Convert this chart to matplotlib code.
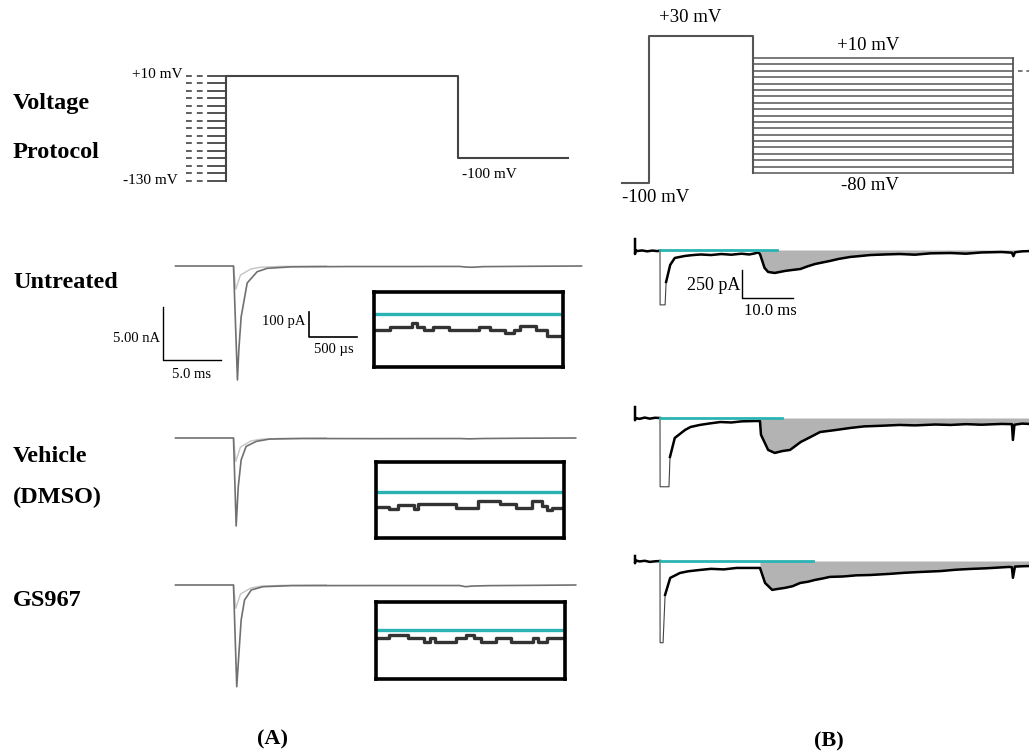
import numpy as np
import matplotlib
matplotlib.use("Agg")
import matplotlib.pyplot as plt

plt.rcParams['font.family'] = ['Liberation Serif', 'DejaVu Serif']

W, H = 1029, 751

# ---- panel A voltage protocol (mV, ms)
protoA_levels = [10, 0, -10, -20, -30, -40, -50, -60, -70, -80, -90, -100, -110, -120, -130]
protoA_test_mv = 10
protoA_tail_mv = -100
protoA_pre = [-3.45, -1.55]      # dashed prepulse, solid prepulse start
protoA_test_ms = 20.0
protoA_tail_ms = 29.5

# ---- panel B voltage protocol
protoB_hold_mv = -100
protoB_pre_mv = 30
protoB_levels = [10, 5, 0, -5, -10, -15, -20, -25, -30, -35, -40, -45, -50, -55, -60, -65, -70, -75, -80]
protoB_times = [-5.2, 0.0, 20.0, 70.0]

# ---- panel A currents (ms, nA)
untr_A_t = [-5.0, 0.0, 0.34, 0.46, 0.66, 1.18, 2.04, 2.9, 5.0, 10.0, 15.0, 19.5, 20.0, 20.6, 21.5, 25.0, 30.0]
untr_A_i = [0.0, 0.0, -10.75, -7.9, -4.8, -1.6, -0.54, -0.22, -0.08, -0.05, -0.05, -0.04, -0.1, -0.12, -0.06, -0.03, 0.0]
veh_A_t = [-5.0, 0.0, 0.23, 0.41, 0.66, 1.09, 1.96, 3.1, 6.0, 12.0, 19.5, 20.3, 21.5, 25.0, 29.5]
veh_A_i = [0.0, 0.0, -8.3, -4.6, -2.06, -0.79, -0.32, -0.1, -0.05, -0.06, -0.05, -0.08, -0.05, -0.02, 0.0]
gs_A_t = [-5.0, 0.0, 0.28, 0.47, 0.66, 0.95, 1.53, 2.53, 5.0, 12.0, 19.5, 20.0, 20.6, 22.0, 26.0, 29.5]
gs_A_i = [0.0, 0.0, -9.6, -6.4, -3.3, -1.42, -0.47, -0.16, -0.06, -0.05, -0.05, -0.16, -0.1, -0.06, -0.03, 0.0]
light_A_t = [0.0, 0.2, 0.6, 1.5, 2.3, 4.0, 8.0]
light_A_i = [0.0, -2.2, -0.85, -0.28, -0.12, -0.04, 0.0]

# ---- insets (us, pA relative to baseline)
untr_in_t = [0, 167, 392, 444, 520, 618, 781, 1093, 1208, 1364, 1457, 1520, 1693, 1804, 1970]
untr_in_i = [-63, -52, -36, -52, -63, -52, -63, -52, -63, -76, -63, -49, -63, -87, -87]
veh_in_t = [0, 140, 227, 401, 436, 830, 1064, 1291, 1459, 1623, 1728, 1780, 1832, 1961]
veh_in_i = [-60, -67, -53, -67, -47, -63, -37, -47, -63, -36, -55, -73, -63, -63]
gs_in_t = [0, 140, 332, 499, 565, 611, 831, 935, 1023, 1092, 1249, 1406, 1633, 1686, 1780, 1961]
gs_in_i = [-33, -20, -33, -47, -33, -47, -33, -20, -33, -47, -33, -47, -33, -47, -33, -33]

# ---- panel B currents (ms, pA)
untr_B_t = [-4.9, -4.9, -4.8, -4.5, -3.5, -2.5, -1.5, -0.5, 0.0, 0.02, 1.0, 1.2, 2.0, 2.9, 4.9, 6.5, 8.0, 10.0,
            12.0, 14.0, 16.0, 17.5, 18.6, 19.2, 19.6, 20.5, 21.2, 22.5, 24.5, 26.0, 27.5, 29.0, 30.4, 32.0,
            33.3, 35.0, 37.3, 39.0, 41.2, 44.0, 47.0, 50.0, 53.0, 57.0, 60.0, 63.0, 67.0, 69.0, 69.3, 69.6, 71.0, 72.4]
untr_B_i = [98, -36, 0, -9, -4, -12, -5, -10, -5, -490, -490, -285, -133, -71, -53, -45, -40, -45,
            -36, -42, -33, -40, -30, -22, -36, -160, -196, -205, -187, -178, -170, -145, -125, -110,
            -98, -80, -62, -55, -45, -40, -36, -42, -30, -27, -33, -22, -18, -24, -55, -20, -12, -10]
veh_B_t = [-4.9, -4.9, -4.8, -4.0, -3.0, -2.0, -1.0, 0.0, 0.02, 1.76, 1.96, 2.9, 4.9, 6.0, 7.8, 9.5, 11.8, 14.0,
           16.0, 18.6, 19.6, 19.8, 21.2, 22.5, 24.0, 25.5, 27.6, 29.5, 31.4, 34.0, 37.3, 40.0, 43.0, 47.0,
           50.0, 54.0, 57.0, 60.0, 63.0, 67.0, 69.0, 69.2, 69.5, 71.0, 72.4]
veh_B_i = [98, -20, 0, -8, 4, -6, 2, 0, -614, -614, -347, -178, -107, -80, -62, -50, -36, -40,
           -30, -27, -27, -150, -285, -312, -295, -285, -214, -170, -125, -110, -89, -75, -70, -62,
           -66, -58, -62, -55, -60, -53, -55, -196, -60, -50, -53]
gs_B_t = [-4.9, -4.9, -4.8, -4.0, -3.0, -2.0, -1.0, 0.0, 0.02, 0.6, 1.0, 2.0, 3.9, 5.5, 7.8, 10.0, 12.5, 15.0,
          18.6, 19.6, 20.6, 22.0, 23.0, 24.5, 26.0, 27.5, 29.0, 30.4, 32.0, 33.3, 36.0, 38.5, 41.2, 45.0,
          48.0, 51.0, 55.0, 58.0, 60.8, 64.0, 68.4, 69.0, 69.2, 69.6, 71.0, 72.4]
gs_B_i = [45, -20, 5, -4, 2, -8, -3, 0, -730, -730, -302, -151, -107, -92, -80, -70, -75, -62,
          -62, -62, -196, -258, -250, -240, -225, -196, -185, -169, -155, -142, -138, -128, -125, -115,
          -105, -98, -90, -78, -71, -65, -53, -55, -150, -50, -47, -45]
cyan_B_end = [23.0, 24.0, 30.0]

CYAN = '#2bb3b3'

fig = plt.figure(figsize=(W / 100, H / 100), dpi=100)


def panel(left, top, right, bottom, x0, y0, sx, sy, frame=False):
    # box in pixels; (x0, y0) pixel of data origin; sx, sy pixels per data unit
    ax = fig.add_axes([left / W, 1 - bottom / H, (right - left) / W, (bottom - top) / H])
    ax.set_xlim((left - x0) / sx, (right - x0) / sx)
    ax.set_ylim((y0 - bottom) / sy, (y0 - top) / sy)
    if frame:
        ax.set_xticks([])
        ax.set_yticks([])
        for s in ax.spines.values():
            s.set_linewidth(2.6)
            s.set_color('black')
    else:
        ax.axis('off')
    return ax


def txt(x, y, s, **kw):
    fig.text(x / W, 1 - y / H, s, va='center', **kw)


# ---------------- protocol A
ax = panel(180, 60, 580, 195, 226, 83, 11.6, 0.75)
pc = '#444444'
for v in protoA_levels:
    ax.plot([protoA_pre[0], protoA_pre[1] - 0.3], [v, v], color=pc, lw=1.2, ls=(0, (3.5, 3.0)))
    ax.plot([protoA_pre[1], 0], [v, v], color=pc, lw=1.3)
ax.plot([0, 0, protoA_test_ms, protoA_test_ms, protoA_tail_ms],
        [min(protoA_levels), protoA_test_mv, protoA_test_mv, protoA_tail_mv, protoA_tail_mv],
        color=pc, lw=1.5)
txt(182, 75, '+10 mV', ha='right', fontsize=11)
txt(178, 180, '-130 mV', ha='right', fontsize=11)
txt(462, 175, '-100 mV', ha='left', fontsize=11)

# ---------------- protocol B (schematic, not to scale in voltage)
anch_mv = [-200, -100, -80, 10, 30, 100]
anch_px = [-50, 0, 10, 125, 147, 202]
fwd = lambda v: np.interp(v, anch_mv, anch_px)
inv = lambda p: np.interp(p, anch_px, anch_mv)
axb = fig.add_axes([615 / W, 1 - 205 / H, (1029 - 615) / W, (205 - 20) / H])
axb.set_yscale('function', functions=(fwd, inv))
axb.set_xlim((615 - 649) / 5.2, (1029 - 649) / 5.2)
axb.set_ylim(inv(183 - 205), inv(183 - 20))
axb.axis('off')
t0, t1, t2, t3 = protoB_times
axb.plot([t0, t1, t1, t2, t2], [protoB_hold_mv, protoB_hold_mv, protoB_pre_mv, protoB_pre_mv, min(protoB_levels)],
         color='#555555', lw=1.5)
for v in protoB_levels:
    axb.plot([t2, t3], [v, v], color='#555555', lw=1.1)
axb.plot([t3, t3], [max(protoB_levels), min(protoB_levels)], color='#555555', lw=1.3)
axb.plot([t3 + 0.9, t3 + 3.6], [0, 0], color='#555555', lw=1.1, ls=(0, (3, 2.5)))
txt(690, 17, '+30 mV', ha='center', fontsize=13.5)
txt(868, 45, '+10 mV', ha='center', fontsize=13.5)
txt(870, 186, '-80 mV', ha='center', fontsize=13.5)
txt(622, 197, '-100 mV', ha='left', fontsize=13.5)

# ---------------- panel A currents + insets
rowsA = [
    (untr_A_t, untr_A_i, 266, untr_in_t, untr_in_i, (374, 292, 563, 367), 314),
    (veh_A_t, veh_A_i, 438, veh_in_t, veh_in_i, (376, 462, 564, 538), 492),
    (gs_A_t, gs_A_i, 585, gs_in_t, gs_in_i, (376, 602, 565, 679), 630),
]
for k, (ta, ia, base, ti, ii, box, cy) in enumerate(rowsA):
    axA = panel(150, base - 25, 600, base + 130, 233.5, base, 11.6, 10.6)
    axA.plot(light_A_t, light_A_i, color='#c4c4c4', lw=1.0)
    axA.plot(ta, ia, color='#707070', lw=1.2)
    if k == 0:
        sb_t, sb_i = 5.0, 5.0
        x0 = (163 - 233.5) / 11.6
        y0 = -(360 - base) / 10.6
        axA.plot([x0, x0, x0 + sb_t], [y0 + sb_i, y0, y0], color='black', lw=1.0, clip_on=False)

    axi = panel(box[0], box[1], box[2], box[3], box[0], cy, 1 / 10.42, 0.25, frame=True)
    axi.axhline(0, color=CYAN, lw=2.4)
    axi.plot(ti, ii, color='#333333', lw=2.4, drawstyle='steps-post')
    if k == 0:
        x0 = (309 - box[0]) * 10.42
        y0 = -(337 - cy) * 4
        axi.plot([x0, x0, x0 + 500], [y0 + 100, y0, y0], color='black', lw=1.2, clip_on=False)

txt(160, 339, '5.00 nA', ha='right', fontsize=10.5)
txt(192, 374, '5.0 ms', ha='center', fontsize=10.5)
txt(305, 322, '100 pA', ha='right', fontsize=10.5)
txt(334, 349, '500 µs', ha='center', fontsize=10.5)

# ---------------- panel B currents
rowsB = [
    (untr_B_t, untr_B_i, 250, 232, 322),
    (veh_B_t, veh_B_i, 418, 398, 498),
    (gs_B_t, gs_B_i, 561, 543, 655),
]
for k, (tb, ib, base, top, bot) in enumerate(rowsB):
    axB = panel(628, top, 1029, bot, 660, base, 5.1, 1 / 8.93)
    tb = np.array(tb)
    ib = np.array(ib, dtype=float)
    axB.fill_between(tb, ib, 0, where=tb >= 19.6, color='#b3b3b3', lw=0, interpolate=True)
    axB.plot(tb, ib, color='#444444', lw=0.8)
    axB.plot(tb, np.ma.masked_where(ib < -400, ib), color='black', lw=1.8)
    axB.plot([0, cyan_B_end[k]], [0, 0], color=CYAN, lw=2.0)
    if k == 0:
        x0 = (742 - 660) / 5.1
        y0 = -(298 - base) * 8.93
        axB.plot([x0, x0, x0 + 10.0], [y0 + 250, y0, y0], color='black', lw=1.0, clip_on=False)

txt(740, 285, '250 pA', ha='right', fontsize=13)
txt(770, 311, '10.0 ms', ha='center', fontsize=12)

# ---------------- row labels
for s, y in [('Voltage', 103), ('Protocol', 153), ('Untreated', 283), ('Vehicle', 457), ('(DMSO)', 497), ('GS967', 601)]:
    txt(13, y, s, ha='left', fontsize=17.5, fontweight='bold')
txt(272, 739, '(A)', ha='center', fontsize=16, fontweight='bold')
txt(829, 741, '(B)', ha='center', fontsize=16, fontweight='bold')

fig.savefig('out.png', dpi=100, facecolor='white')
